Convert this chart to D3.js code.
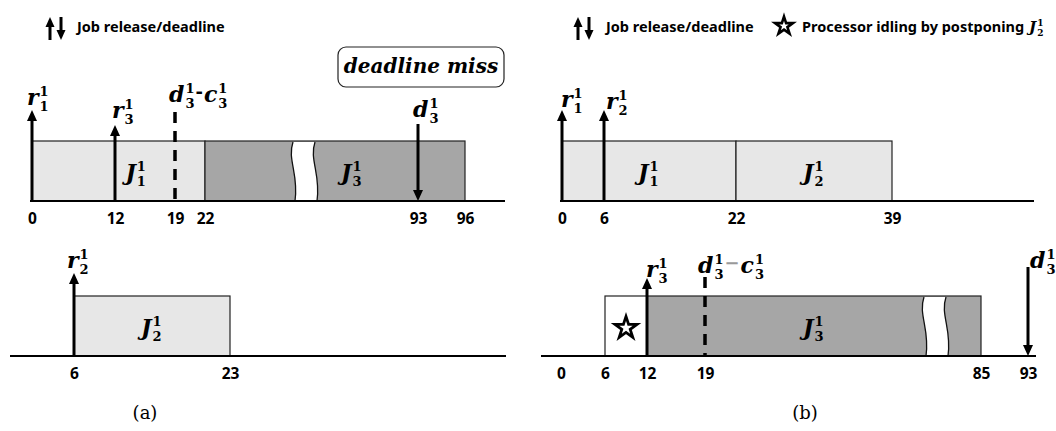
<!DOCTYPE html>
<html>
<head>
<meta charset="utf-8">
<script src="https://cdn.jsdelivr.net/npm/d3@7"></script>
<style>
  body { margin: 0; background: #fff; }
  .tick text { font-family: "Noto Sans", sans-serif; font-weight: bold; font-size: 15.5px; fill: #000; }
  .legend { font-family: "Noto Sans", sans-serif; font-weight: bold; font-size: 14.5px; }
  .math { font-family: "DejaVu Serif", serif; font-weight: bold; font-style: italic; }
  .num { font-family: "DejaVu Serif", serif; font-weight: bold; }
  .caption { font-family: "DejaVu Serif", serif; font-size: 18px; }
</style>
</head>
<body>
<div id="chart"></div>
<script>
// (a) upper timeline
var ticksA1 = [0, 12, 19, 22, 93, 96];
var jobsA1 = [{job: 1, start: 0, end: 22}, {job: 3, start: 22, end: 96}];
var releasesA1 = [{job: 1, t: 0}, {job: 3, t: 12}];
var deadlinesA1 = [{job: 3, t: 93}];
var latestA1 = [{job: 3, t: 19}];
var breaksA1 = [55];

// (a) lower timeline
var ticksA2 = [6, 23];
var jobsA2 = [{job: 2, start: 6, end: 23}];
var releasesA2 = [{job: 2, t: 6}];

// (b) upper timeline
var ticksB1 = [0, 6, 22, 39];
var jobsB1 = [{job: 1, start: 0, end: 22}, {job: 2, start: 22, end: 39}];
var releasesB1 = [{job: 1, t: 0}, {job: 2, t: 6}];

// (b) lower timeline
var ticksB2 = [0, 6, 12, 19, 85, 93];
var idleB2 = [{start: 6, end: 12}];
var jobsB2 = [{job: 3, start: 12, end: 85}];
var releasesB2 = [{job: 3, t: 12}];
var deadlinesB2 = [{job: 3, t: 93}];
var latestB2 = [{job: 3, t: 19}];
var breaksB2 = [74];

var width = 1056, height = 431, barH = 60;

var svg = d3.select("#chart").append("svg")
    .attr("width", width)
    .attr("height", height);

var color = d3.scaleOrdinal().domain([1, 2, 3]).range(["#e7e7e7", "#e7e7e7", "#a6a6a6"]);

// letter with stacked superscript "1" and subscript, e.g. r_1^1
function mathLabel(g, x, y, letter, sub, size) {
    var t = g.append("text").attr("class", "math")
        .attr("x", x).attr("y", y)
        .style("font-size", size + "px")
        .text(letter);
    var w = t.node().getComputedTextLength();
    var small = Math.round(size * 0.6);
    g.append("text").attr("class", "num")
        .attr("x", x + w + 1).attr("y", y - size * 0.42)
        .style("font-size", small + "px").text("1");
    var s = g.append("text").attr("class", "num")
        .attr("x", x + w + 1).attr("y", y + size * 0.26)
        .style("font-size", small + "px").text(sub);
    return w + 1 + s.node().getComputedTextLength();
}

function upArrow(g, x, y0, y1, head, sw) {
    g.append("line").attr("x1", x).attr("x2", x).attr("y1", y0).attr("y2", y1 + head)
        .attr("stroke", "#000").attr("stroke-width", sw);
    g.append("path")
        .attr("d", "M" + x + "," + y1 + "L" + (x - head / 2) + "," + (y1 + head + 1) + "L" + (x + head / 2) + "," + (y1 + head + 1) + "Z")
        .attr("fill", "#000");
}

function downArrow(g, x, y0, y1, head, sw) {
    g.append("line").attr("x1", x).attr("x2", x).attr("y1", y0).attr("y2", y1 - head)
        .attr("stroke", "#000").attr("stroke-width", sw);
    g.append("path")
        .attr("d", "M" + x + "," + y1 + "L" + (x - head / 2) + "," + (y1 - head - 1) + "L" + (x + head / 2) + "," + (y1 - head - 1) + "Z")
        .attr("fill", "#000");
}

function breakPath(cx, top, bottom, w) {
    var h = bottom - top, l = cx - w / 2, r = cx + w / 2;
    return "M" + l + "," + top +
        "C" + (l - 6) + "," + (top + h * 0.3) + " " + (l + 6) + "," + (top + h * 0.55) + " " + (l + 2) + "," + bottom +
        "L" + (r + 2) + "," + bottom +
        "C" + (r + 6) + "," + (top + h * 0.55) + " " + (r - 6) + "," + (top + h * 0.3) + " " + r + "," + top + "Z";
}

function breakLines(cx, top, bottom, w) {
    var h = bottom - top, l = cx - w / 2, r = cx + w / 2;
    return "M" + l + "," + top +
        "C" + (l - 6) + "," + (top + h * 0.3) + " " + (l + 6) + "," + (top + h * 0.55) + " " + (l + 2) + "," + bottom +
        "M" + r + "," + top +
        "C" + (r - 6) + "," + (top + h * 0.3) + " " + (r + 6) + "," + (top + h * 0.55) + " " + (r + 2) + "," + bottom;
}

function drawPanel(p) {
    var x = d3.scaleLinear().domain(p.ticks).range(p.range);
    var g = svg.append("g");
    var barTop = p.axisY - barH;

    g.selectAll(".idle")
        .data(p.idle || [])
        .enter()
        .append("rect")
        .attr("x", function (d) { return x(d.start); })
        .attr("y", barTop)
        .attr("width", function (d) { return x(d.end) - x(d.start); })
        .attr("height", barH)
        .attr("fill", "#fff")
        .attr("stroke", "#222")
        .attr("stroke-width", 1.2);

    g.selectAll(".idle-star")
        .data(p.idle || [])
        .enter()
        .append("path")
        .attr("d", d3.symbol().type(d3.symbolStar).size(150))
        .attr("transform", function (d) {
            return "translate(" + ((x(d.start) + x(d.end)) / 2) + "," + (barTop + barH / 2 + 2) + ")";
        })
        .attr("fill", "#fff")
        .attr("stroke", "#000")
        .attr("stroke-width", 2.8)
        .attr("stroke-linejoin", "miter");

    g.selectAll(".job")
        .data(p.jobs)
        .enter()
        .append("rect")
        .attr("x", function (d) { return x(d.start); })
        .attr("y", barTop)
        .attr("width", function (d) { return x(d.end) - x(d.start); })
        .attr("height", barH)
        .attr("fill", function (d) { return color(d.job); })
        .attr("stroke", "#222")
        .attr("stroke-width", 1.2);

    (p.breaks || []).forEach(function (b) {
        g.append("path").attr("d", breakPath(x(b), barTop + 1, p.axisY, 22))
            .attr("fill", "#fff");
        g.append("path").attr("d", breakLines(x(b), barTop + 1, p.axisY, 22))
            .attr("fill", "none").attr("stroke", "#111").attr("stroke-width", 1.3);
    });

    p.jobs.forEach(function (d, i) {
        var at = p.jobLabelAt && p.jobLabelAt[i] != null ? x(p.jobLabelAt[i]) : (x(d.start) + x(d.end)) / 2;
        mathLabel(g, at - 11, barTop + barH / 2 + 9, "J", String(d.job), 22);
    });

    // time axis
    g.append("line")
        .attr("x1", p.axisExtent[0]).attr("x2", p.axisExtent[1])
        .attr("y1", p.axisY).attr("y2", p.axisY)
        .attr("stroke", "#000").attr("stroke-width", 2);

    var axis = d3.axisBottom(x).tickValues(p.ticks).tickSize(0).tickFormat(d3.format("d"));
    var ga = g.append("g")
        .attr("transform", "translate(0," + p.axisY + ")")
        .call(axis);
    ga.select(".domain").remove();
    ga.selectAll("text").attr("y", 23).attr("dy", 0);

    // latest start time  d - c
    (p.latest || []).forEach(function (d, i) {
        var lx = x(d.t);
        var top = barTop - p.latestRise[i];
        g.append("line")
            .attr("x1", lx).attr("x2", lx)
            .attr("y1", top).attr("y2", p.axisY)
            .attr("stroke", "#000").attr("stroke-width", 3.5)
            .attr("stroke-dasharray", "11,8");
        var lg = g.append("g");
        var px = lx + p.latestLabel[0];
        var py = top + p.latestLabel[1];
        px += mathLabel(lg, px, py, "d", String(d.job), 22) + 1;
        var minus = lg.append("text").attr("class", "num")
            .attr("x", px).attr("y", py - 4)
            .style("font-size", "18px")
            .attr("fill", p.minusColor)
            .text(p.minusSign);
        px += minus.node().getComputedTextLength() + 1;
        mathLabel(lg, px, py, "c", String(d.job), 22);
    });

    // releases
    p.releases.forEach(function (d, i) {
        var rx = x(d.t);
        var tip = barTop - p.releaseRise[i];
        upArrow(g, rx, p.axisY, tip, 10, 3);
        mathLabel(g, rx + p.releaseLabel[i][0], tip + p.releaseLabel[i][1], "r", String(d.job), 22);
    });

    // deadlines
    (p.deadlines || []).forEach(function (d, i) {
        var dx = x(d.t);
        var top = barTop - p.deadlineRise[i];
        downArrow(g, dx, top, p.axisY, 10, 3);
        mathLabel(g, dx + p.deadlineLabel[i][0], top + p.deadlineLabel[i][1], "d", String(d.job), 22);
    });
}

drawPanel({
    ticks: ticksA1, range: [32, 115, 175, 205, 418, 465], axisExtent: [30, 505], axisY: 201,
    jobs: jobsA1, jobLabelAt: [14.5, 71], breaks: breaksA1,
    releases: releasesA1, releaseRise: [31, 16], releaseLabel: [[-5, -5], [-3, -7]],
    deadlines: deadlinesA1, deadlineRise: [17], deadlineLabel: [[-5, -7]],
    latest: latestA1, latestRise: [29], latestLabel: [-6, -10], minusSign: "-", minusColor: "#000"
});

drawPanel({
    ticks: ticksA2, range: [74, 230], axisExtent: [10, 506], axisY: 356,
    jobs: jobsA2, releases: releasesA2, releaseRise: [23], releaseLabel: [[-7, -5]]
});

drawPanel({
    ticks: ticksB1, range: [562, 604, 736, 892], axisExtent: [560, 1034], axisY: 201,
    jobs: jobsB1, releases: releasesB1, releaseRise: [31, 31], releaseLabel: [[-1, -3], [2, -1]]
});

drawPanel({
    ticks: ticksB2, range: [561, 605, 647, 705, 981, 1028], axisExtent: [541, 1036], axisY: 356,
    jobs: jobsB2, idle: idleB2, breaks: breaksB2,
    releases: releasesB2, releaseRise: [18], releaseLabel: [[-1, -1]],
    deadlines: deadlinesB2, deadlineRise: [29], deadlineLabel: [[2, 1]],
    latest: latestB2, latestRise: [19], latestLabel: [-7, -4], minusSign: "\u2212", minusColor: "#999"
});

// "deadline miss" call-out
var miss = svg.append("g");
miss.append("rect")
    .attr("x", 338).attr("y", 47).attr("width", 166).attr("height", 40)
    .attr("rx", 8)
    .attr("fill", "#fff").attr("stroke", "#222").attr("stroke-width", 1.2);
miss.append("text")
    .attr("class", "math")
    .attr("x", 421).attr("y", 73)
    .attr("text-anchor", "middle")
    .style("font-size", "20px")
    .text("deadline miss");

// legends
function legendArrows(g, x) {
    upArrow(g, x, 40, 17, 9, 3);
    downArrow(g, x + 11, 17, 40, 9, 3);
}
var legA = svg.append("g");
legendArrows(legA, 50);
legA.append("text").attr("class", "legend").attr("x", 77).attr("y", 32).text("Job release/deadline");

var legB = svg.append("g");
legendArrows(legB, 578);
legB.append("text").attr("class", "legend").attr("x", 606).attr("y", 32).text("Job release/deadline");
legB.append("path")
    .attr("d", d3.symbol().type(d3.symbolStar).size(100))
    .attr("transform", "translate(784,26)")
    .attr("fill", "#fff").attr("stroke", "#000").attr("stroke-width", 2.6);
var idleText = legB.append("text").attr("class", "legend").attr("x", 802).attr("y", 32)
    .text("Processor idling by postponing");
var endX = 802 + idleText.node().getComputedTextLength() + 5;
mathLabel(legB, endX, 32, "J", "2", 15);

// captions
svg.append("text").attr("class", "caption").attr("x", 145).attr("y", 419)
    .attr("text-anchor", "middle").text("(a)");
svg.append("text").attr("class", "caption").attr("x", 805).attr("y", 419)
    .attr("text-anchor", "middle").text("(b)");
</script>
</body>
</html>
